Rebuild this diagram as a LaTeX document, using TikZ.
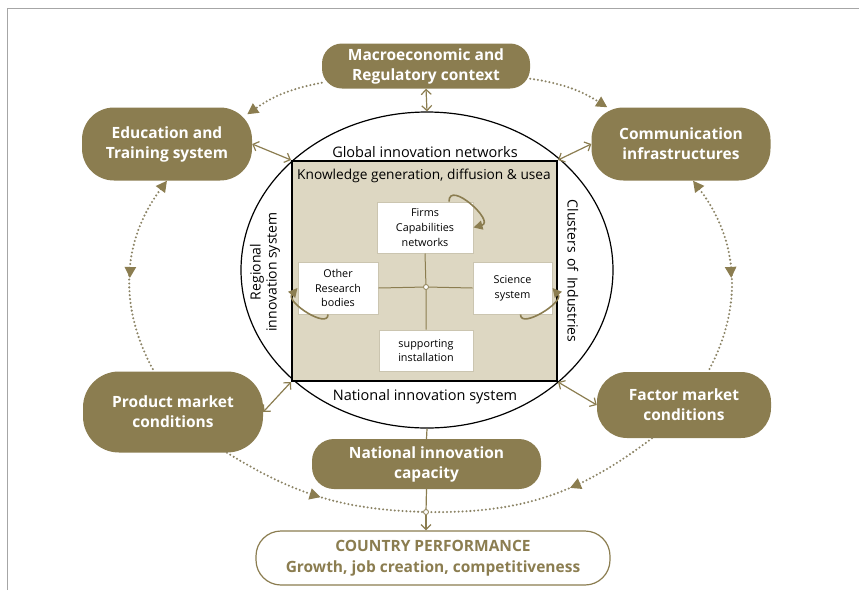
\documentclass[tikz,border=0pt]{standalone}
\usepackage{fontspec}
\setmainfont{Open Sans}
\usetikzlibrary{shapes.geometric, arrows.meta, decorations.markings}
\definecolor{goldbrown}{RGB}{139,125,80}
\definecolor{dotgray}{RGB}{140,132,102}
\definecolor{beige}{RGB}{221,215,194}

\begin{document}
\begin{tikzpicture}[x=1pt, y=-1pt,
  pill/.style={fill=goldbrown, text=white, rounded corners=#1, inner sep=0pt, align=center,
    font=\fontsize{15.5}{20}\selectfont\bfseries},
  inbox/.style={draw=goldbrown!45, line width=1pt, fill=white, inner sep=0pt, align=center,
    font=\fontsize{10.8}{14.8}\selectfont},
  lbl/.style={font=\fontsize{14.5}{16}\selectfont, inner sep=0pt},
  dbl/.style={goldbrown, line width=1.2pt, {Straight Barb[length=5pt,width=10pt]}-{Straight Barb[length=5pt,width=10pt]}},
  selfloop/.style={goldbrown, line width=1.6pt, -{Triangle[length=9pt,width=9pt]}},
  dotline/.style={dotgray, line width=2.3pt, line cap=round, dash pattern=on 0pt off 3.9pt},
  dottip/.tip={Triangle[length=11pt,width=11pt,color=goldbrown]},
  midtip/.style={postaction={decorate}, decoration={markings, mark=at position #1 with {\arrow{dottip}}}},
  dot/.style={circle, draw=goldbrown, fill=white, line width=0.8pt, inner sep=0pt, minimum size=5pt}]
\useasboundingbox (0,0) rectangle (859,590);
\draw[gray!70, line width=1pt] (7,590) -- (7,8) -- (859,8);

\node[draw, ellipse, line width=1.2pt, minimum width=372pt, minimum height=316pt, inner sep=0pt] (nis) at (427,270) {};
\node[draw, fill=beige, line width=2pt, minimum width=265pt, minimum height=220pt, inner sep=0pt] (kbox) at (424.5,271) {};

\node[lbl] (gin) at (425,152) {Global innovation networks};
\node[lbl] (nsys) at (425,397) {National innovation system};
\node[lbl, rotate=90, align=center, font=\fontsize{14}{16}\selectfont] (ris) at (265,272) {Regional\\innovation system};
\node[lbl, rotate=-90, font=\fontsize{14}{16}\selectfont] (cli) at (573,271) {Clusters\hspace{0.4em}of\hspace{0.4em}Industries};
\node[lbl, font=\fontsize{13.7}{15}\selectfont] (kgen) at (424,176) {Knowledge generation, diffusion \& usea};

\node[inbox, minimum width=96pt, minimum height=51pt] (firms) at (425,227.5) {Firms\\Capabilities\\networks};
\node[inbox, minimum width=80pt, minimum height=52pt] (other) at (338,288) {Other\\Research\\bodies};
\node[inbox, minimum width=79pt, minimum height=52pt] (sci) at (512.5,288) {Science\\system};
\node[inbox, minimum width=94pt, minimum height=41pt] (sup) at (426,350.5) {supporting\\installation};
\node[dot] (ctr) at (426,287) {};
\draw[goldbrown, line width=1pt] (firms.south) -- (ctr) -- (sup.north);
\draw[goldbrown, line width=1pt] (other.east) -- (ctr) -- (sci.west);

\draw[selfloop] ([xshift=24pt]firms.north) .. controls +(0,-22) and +(22,-6) .. (firms.east);
\draw[selfloop] ([xshift=-10pt]other.south) .. controls +(0,15) and +(-12,14) .. (other.west);
\draw[selfloop] ([xshift=8pt]sci.south) .. controls +(0,15) and +(12,14) .. (sci.east);

\node[pill=20pt, minimum width=208pt, minimum height=45pt] (macro) at (426,66) {Macroeconomic and\\Regulatory context};
\node[pill=32pt, minimum width=170pt, minimum height=73pt] (edu) at (167,144) {Education and\\Training system};
\node[pill=32pt, minimum width=179pt, minimum height=73pt] (comm) at (681,144) {Communication\\infrastructures};
\node[pill=36pt, minimum width=180pt, minimum height=81pt] (prod) at (173,412) {Product market\\conditions};
\node[pill=30pt, minimum width=174pt, minimum height=66pt] (factor) at (684,405) {Factor market\\conditions};
\node[pill=22pt, minimum width=229pt, minimum height=50pt] (nic) at (426.5,464) {National innovation\\capacity};
\node[draw=goldbrown, line width=1.2pt, fill=white, text=goldbrown, rounded corners=25pt, minimum width=354pt,
  minimum height=54pt, inner sep=0pt, align=center, font=\fontsize{15.5}{21}\selectfont\bfseries] (cp) at (433,558)
  {COUNTRY PERFORMANCE\\Growth, job creation, competitiveness};
\node[dot] (hub) at (426,512) {};

\draw[dbl] (macro.south) -- (nis.north);
\draw[dbl] (edu.east) -- (kbox.north west);
\draw[dbl] (comm.west) -- (kbox.north east);
\draw[dbl] (prod.east) -- (kbox.south west);
\draw[dbl] (factor.west) -- (kbox.south east);
\draw[goldbrown, line width=1.2pt] (nis.south) -- (nic.north);
\draw[goldbrown, line width=1.2pt] (nic.south) -- (hub);
\draw[goldbrown, line width=1.2pt, -{Straight Barb[length=5pt,width=10pt]}] (hub) -- (hub |- cp.north);

\draw[dotline, -dottip] ([yshift=6pt]macro.south west) to[bend right=12] ([xshift=-5pt,yshift=-7pt]edu.north east);
\draw[dotline, -dottip] ([yshift=10pt]macro.south east) to[bend left=12] ([xshift=16pt]comm.north west);
\draw[dotline, dottip-, midtip=0.52] (edu.south) to[bend right=33] ([xshift=-19pt]prod.north);
\draw[dotline, dottip-, midtip=0.52] ([xshift=12pt]comm.south) to[bend left=33] ([xshift=24pt]factor.north);
\draw[dotline, midtip=0.5] ([xshift=54pt]prod.south) to[bend right=15] (hub);
\draw[dotline, midtip=0.4] ([xshift=-32pt]factor.south) to[bend left=19] (hub);
\end{tikzpicture}
\end{document}
